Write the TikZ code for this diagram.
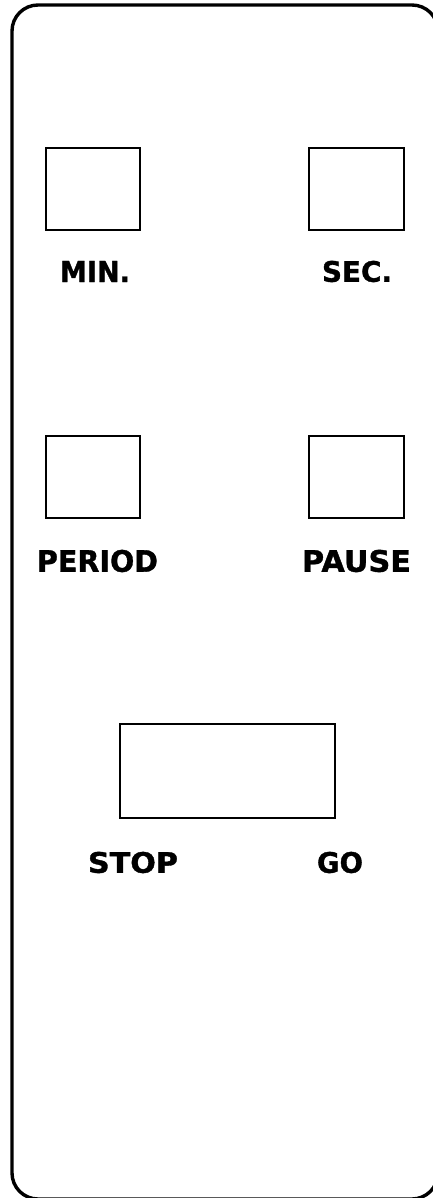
\documentclass[tikz,border=0pt]{standalone}
\usepackage{fontspec}
\setmainfont{DejaVu Sans}
\newfontfamily\lblfont[FakeBold=1.2]{DejaVu Sans Bold}
\begin{document}
\begin{tikzpicture}[x=1pt,y=-1pt,
  btn/.style={line width=2.8pt},
  lbl/.style={inner sep=0pt,anchor=center,font=\lblfont}]
\useasboundingbox (0,0) rectangle (433,1198);
\draw[line width=3.4pt,rounded corners=26pt] (12,5) rectangle (438,1199);
% buttons
\draw[btn] (46,148) rectangle (140,230) coordinate (minbox);
\draw[btn] (309,148) rectangle (404,230) coordinate (secbox);
\draw[btn] (46,436) rectangle (140,518) coordinate (perbox);
\draw[btn] (309,436) rectangle (404,518) coordinate (pausebox);
\draw[btn] (120,724) rectangle (335,818) coordinate (gobox);
% labels
\node[lbl] (min) at (95,271.5) {\resizebox{70pt}{21pt}{MIN.}};
\node[lbl] (sec) at (357,271.5) {\resizebox{70pt}{21pt}{SEC.}};
\node[lbl] (period) at (97.5,561) {\resizebox{121pt}{22pt}{PERIOD}};
\node[lbl] (pause) at (356.5,561) {\resizebox{109pt}{22pt}{PAUSE}};
\node[lbl] (stop) at (133,862.5) {\resizebox{90pt}{21pt}{STOP}};
\node[lbl] (go) at (340,862.5) {\resizebox{46pt}{21pt}{GO}};
\end{tikzpicture}
\end{document}
